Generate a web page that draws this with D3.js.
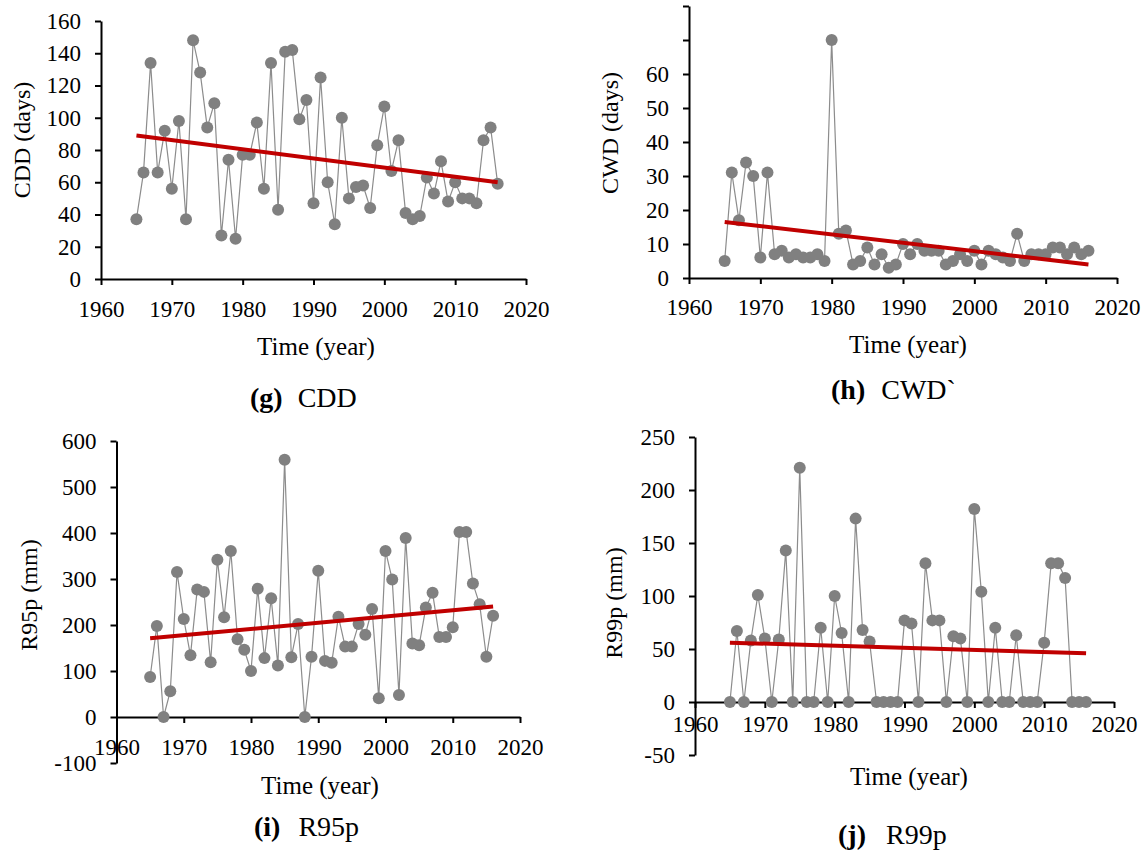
<!DOCTYPE html>
<html>
<head>
<meta charset="utf-8">
<script src="https://cdn.jsdelivr.net/npm/d3@7"></script>
<style>
  body{margin:0;background:#fff;}
</style>
</head>
<body>
<script>
// years on the x axis (one point per year)
const years=[1965,1966,1967,1968,1969,1970,1971,1972,1973,1974,1975,1976,1977,1978,1979,
  1980,1981,1982,1983,1984,1985,1986,1987,1988,1989,1990,1991,1992,1993,1994,1995,1996,
  1997,1998,1999,2000,2001,2002,2003,2004,2005,2006,2007,2008,2009,2010,2011,2012,2013,
  2014,2015,2016]
const xTicks=[1960,1970,1980,1990,2000,2010,2020]

const cddValues=[37,66,134,66,92,56,98,37,148,128,94,109,27,74,25,77,77,97,56,134,43,141,142,99,111,
  47,125,60,34,100,50,57,58,44,83,107,67,86,41,37,39,63,53,73,48,60,50,50,47,86,94,59]
const cwdValues=[5,31,17,34,30,6,31,7,8,6,7,6,6,7,5,70,13,14,4,5,9,4,7,3,4,
  10,7,10,8,8,8,4,5,7,5,8,4,8,7,6,5,13,5,7,7,7,9,9,7,9,7,8]
const r95pValues=[87,198,0,56,315,213,134,277,272,119,342,217,361,169,146,100,279,128,258,112,559,130,202,0,131,
  318,122,118,218,153,153,202,179,235,41,361,299,48,389,160,156,238,270,174,174,195,402,402,290,245,131,220]
const r99pValues=[0,67,0,58,101,60,0,59,143,0,221,0,0,70,0,100,65,0,173,68,57,0,0,0,0,
  77,74,0,131,77,77,0,62,60,0,182,104,0,70,0,0,63,0,0,0,56,131,131,117,0,0,0]

// linear trend, value at first and last year
const trendYears=[1965,2016]
const cddTrend=[89,60]
const cwdTrend=[16.5,4]
const r95pTrend=[171,240]
const r99pTrend=[56,46]

const cddTicks=[0,20,40,60,80,100,120,140,160]
const cwdTicks=[0,10,20,30,40,50,60,70,80]
const cwdLabels=[0,10,20,30,40,50,60]
const r95pTicks=[-100,0,100,200,300,400,500,600]
const r99pTicks=[-50,0,50,100,150,200,250]

const serif="'Liberation Serif', Tinos, 'Times New Roman', Times, serif"

const svg=d3.select("body").append("svg")
  .attr("width",1147)
  .attr("height",857)
  .attr("font-family",serif)

let drawPanel=(p)=>{
  const x=d3.scaleLinear().domain([1960,2020]).range(p.xRange)
  const y=d3.scaleLinear().domain(p.yDomain).range(p.yRange)
  const g=svg.append("g")

  const yAxis=d3.axisLeft(y)
    .tickValues(p.yTicks)
    .tickSize(6)
    .tickSizeOuter(0)
    .tickPadding(14)
    .tickFormat(d=>p.yLabels.includes(d)?d:"")
  g.append("g")
    .attr("transform",`translate(${p.xRange[0]},0)`)
    .call(yAxis)

  const xAxis=d3.axisBottom(x)
    .tickValues(xTicks)
    .tickSize(6)
    .tickSizeOuter(0)
    .tickPadding(p.xPad)
    .tickFormat(d=>d)
  g.append("g")
    .attr("transform",`translate(0,${y(0)})`)
    .call(xAxis)

  // d3 axes put a sans-serif font on their group, take it back to the serif one
  g.selectAll("g").attr("font-family",serif).attr("font-size",23)
  g.selectAll(".domain").attr("stroke","#000").attr("stroke-width",2)
  g.selectAll(".tick line").attr("stroke","#000").attr("stroke-width",2)
  g.selectAll(".tick text").attr("fill","#000")

  const line=d3.line()
    .x((d,i)=>x(years[i]))
    .y(d=>y(d))
  g.append("path")
    .datum(p.values)
    .attr("d",line)
    .attr("fill","none")
    .attr("stroke","#8c8c8c")
    .attr("stroke-width",1.2)

  g.selectAll("circle")
    .data(p.values)
    .enter()
    .append("circle")
    .attr("cx",(d,i)=>x(years[i]))
    .attr("cy",d=>y(d))
    .attr("r",6)
    .attr("fill","#808080")

  g.append("line")
    .attr("x1",x(trendYears[0]))
    .attr("y1",y(p.trend[0]))
    .attr("x2",x(trendYears[1]))
    .attr("y2",y(p.trend[1]))
    .attr("stroke","#c00000")
    .attr("stroke-width",4)

  g.append("text")
    .attr("transform",`translate(${p.titlePos[0]},${p.titlePos[1]}) rotate(-90)`)
    .attr("text-anchor","middle")
    .attr("dominant-baseline","central")
    .attr("font-size",24)
    .text(p.yTitle)

  g.append("text")
    .attr("x",p.timePos[0])
    .attr("y",p.timePos[1])
    .attr("text-anchor","middle")
    .attr("dominant-baseline","central")
    .attr("font-size",25)
    .text("Time (year)")

  const cap=g.append("text")
    .attr("x",p.capPos[0])
    .attr("y",p.capPos[1])
    .attr("dominant-baseline","central")
    .attr("font-size",28)
  cap.append("tspan").attr("font-weight","bold").text(p.capLetter)
  cap.append("tspan").attr("dx",p.capGap).text(p.capText)
}

drawPanel({values:cddValues,trend:cddTrend,yTicks:cddTicks,yLabels:cddTicks,
  xRange:[101,526],yDomain:[0,160],yRange:[279,21],xPad:16,
  yTitle:"CDD (days)",titlePos:[22,140],timePos:[316,346],
  capLetter:"(g)",capText:"CDD",capGap:15,capPos:[250,397]})

drawPanel({values:cwdValues,trend:cwdTrend,yTicks:cwdTicks,yLabels:cwdLabels,
  xRange:[689,1117],yDomain:[0,80],yRange:[278,6],xPad:15,
  yTitle:"CWD (days)",titlePos:[610,133],timePos:[908,344],
  capLetter:"(h)",capText:"CWD`",capGap:16,capPos:[831,389]})

drawPanel({values:r95pValues,trend:r95pTrend,yTicks:r95pTicks,yLabels:r95pTicks,
  xRange:[116.5,520],yDomain:[-100,600],yRange:[763,441],xPad:16,
  yTitle:"R95p (mm)",titlePos:[29,595],timePos:[320,785],
  capLetter:"(i)",capText:"R95p",capGap:18,capPos:[254,826]})

drawPanel({values:r99pValues,trend:r99pTrend,yTicks:r99pTicks,yLabels:r99pTicks,
  xRange:[695,1114],yDomain:[-50,250],yRange:[755,437],xPad:8,
  yTitle:"R99p (mm)",titlePos:[614,603],timePos:[909,776],
  capLetter:"(j)",capText:"R99p",capGap:20,capPos:[838,834]})
</script>
</body>
</html>
